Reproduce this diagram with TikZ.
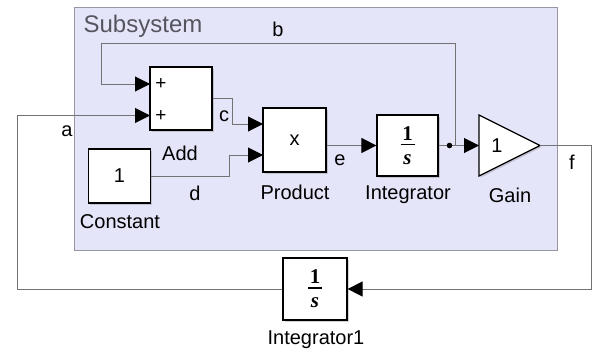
\documentclass[tikz,border=0pt]{standalone}
\usepackage{fontspec}
\setmainfont{Liberation Sans}
\newfontfamily\serfont{Liberation Serif}
\usetikzlibrary{arrows.meta,shadows}

\definecolor{subfill}{RGB}{229,229,250}
\definecolor{subedge}{RGB}{150,150,165}
\definecolor{subtext}{RGB}{85,85,95}
\definecolor{wire}{RGB}{115,115,115}

\tikzset{
	blk/.style={draw=black, line width=1.2pt, fill=white, inner sep=0pt,
		drop shadow={shadow xshift=1.6pt, shadow yshift=-1.6pt, opacity=0.35}},
	sig/.style={draw=wire, line width=1pt},
	arr/.style={sig, -{Triangle[length=15pt,width=15pt,color=black]}},
	lbl/.style={font=\fontsize{20}{24}\selectfont},
	sgn/.style={font=\fontsize{19}{22}\selectfont},
	frac/.style={align=center, font=\fontsize{21}{22}\selectfont\serfont\bfseries},
}

\newcommand{\intfrac}{1\\[-10pt]\rule[7pt]{14pt}{1.6pt}\\[-10pt]\itshape s}

\begin{document}
\begin{tikzpicture}[x=1pt, y=-1pt]
	\useasboundingbox (0,0) rectangle (594,353);
	
	\draw[subedge, fill=subfill, line width=1pt] (74,8) rectangle (557,250);
	\node[font=\fontsize{24}{28}\selectfont, text=subtext] (title) at (143,26) {Subsystem};
	
	\node[blk, minimum width=62pt, minimum height=63pt] (add) at (181,98.5) {};
	\node[sgn] (plusb) at (161,84) {+};
	\node[sgn] (plusa) at (161,116) {+};
	\node[blk, lbl, minimum width=62pt, minimum height=54pt] (const) at (119.5,176) {1};
	\node[blk, lbl, minimum width=63pt, minimum height=64pt] (prod) at (294.5,140) {x};
	\node[blk, frac, minimum width=61pt, minimum height=61pt] (integ) at (407.5,145.5) {\intfrac};
	\draw[blk] (479,115) -- (540,145.5) -- (479,176) -- cycle;
	\node[lbl] (gain) at (497,145.5) {1};
	\node[blk, frac, minimum width=64pt, minimum height=62pt] (integb) at (315,289) {\intfrac};
	
	\node[lbl] (addlbl) at (180,153) {Add};
	\node[lbl] (constlbl) at (120,222) {Constant};
	\node[lbl] (prodlbl) at (295,192) {Product};
	\node[lbl] (integlbl) at (408,195) {Integrator};
	\node[lbl] (gainlbl) at (510,195) {Gain};
	\node[lbl] (integblbl) at (316,340) {Integrator1};
	
	\coordinate (ainb) at (150,84);
	\coordinate (aina) at (150,115.5);
	\coordinate (pina) at (263,124);
	\coordinate (pinb) at (263,155);
	\coordinate (gin) at (479,145.5);
	\coordinate (gout) at (540,145.5);
	\coordinate (br) at (455.5,145.5);
	
	\draw[arr] (add.east) -- ++(20,0) |- (pina);
	\draw[arr] (const.east) -- ++(78,0) |- (pinb);
	\draw[arr] (prod.east |- integ.west) -- (integ.west);
	\draw[arr] (integ.east) -- (gin);
	\fill (449.5,145.5) circle (2.8);
	\draw[arr] (br) -- (br |- 0,44) -| (101,84) -- (ainb);
	\draw[arr] (gout) -- (591,145.5) |- (integb.east);
	\draw[arr] (integb.west) -- (17,289) |- (aina);
	
	\node[lbl] (sa) at (67,131) {a};
	\node[lbl] (sb) at (278,29) {b};
	\node[lbl] (sc) at (224,116) {c};
	\node[lbl] (sd) at (195,193) {d};
	\node[lbl] (se) at (340,160) {e};
	\node[lbl] (sf) at (572,162) {f};
\end{tikzpicture}
\end{document}
